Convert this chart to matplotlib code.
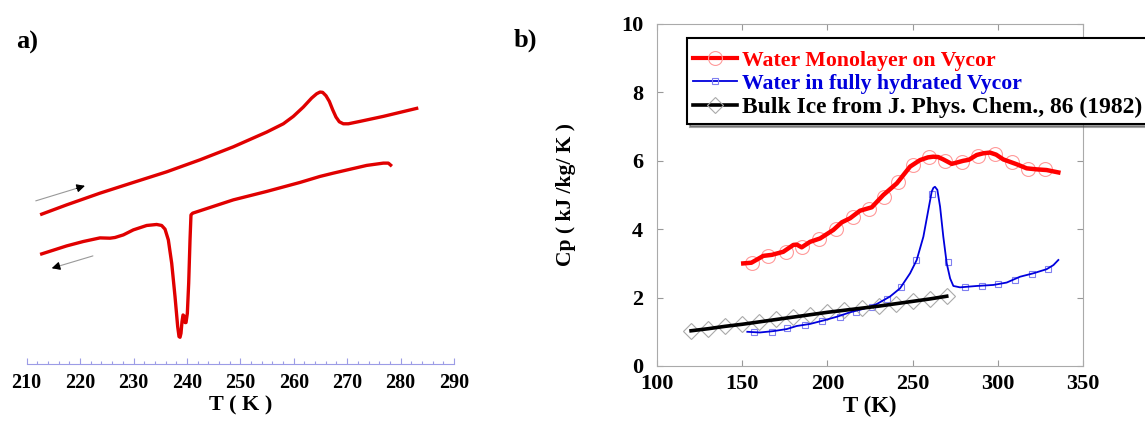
import matplotlib
matplotlib.use('Agg')
import matplotlib.pyplot as plt
from matplotlib.lines import Line2D
from matplotlib.ticker import MultipleLocator

plt.rcParams['font.family'] = ['Liberation Serif', 'DejaVu Serif']
plt.rcParams['font.weight'] = 'bold'
plt.rcParams['axes.labelweight'] = 'bold'

# ---- panel a: DSC scans (arbitrary heat flow units) ----
heat_T = [212.81, 217.49, 223.73, 229.97, 236.21, 242.45, 248.69, 254.93, 258.05,
          259.92, 261.79, 263.35, 264.29, 264.91, 265.41, 266.04, 266.66, 267.29,
          267.91, 268.53, 269.28, 270.22, 272.40, 276.77, 283.01]
heat_sig = [150.0, 159.3, 171.0, 181.7, 192.3, 204.3, 217.3, 232.0, 240.3,
            247.7, 257.0, 266.0, 270.3, 272.0, 271.7, 268.3, 262.7, 254.3,
            247.0, 242.3, 240.3, 240.3, 242.7, 247.7, 255.7]

cool_T = [212.81, 217.49, 220.61, 223.73, 225.60, 226.54, 228.10, 229.97, 232.47,
          234.34, 235.27, 235.90, 236.52, 237.15, 237.77, 238.27, 238.52, 238.71,
          238.89, 239.08, 239.27, 239.45, 239.64, 239.83, 240.08, 240.33, 240.58,
          240.76, 241.08, 248.69, 254.93, 261.17, 264.91, 267.41, 273.65, 276.77,
          277.71, 278.14]
cool_sig = [110.3, 118.3, 122.7, 126.3, 126.0, 126.7, 129.3, 134.3, 138.7,
            139.7, 138.7, 135.0, 124.3, 101.0, 67.7, 37.7, 27.7, 27.0,
            31.0, 42.7, 49.3, 48.3, 41.7, 41.7, 51.0, 81.0, 124.3,
            149.3, 151.0, 164.3, 172.7, 181.7, 187.7, 191.0, 198.7, 201.0,
            201.0, 199.0]

# ---- panel b: heat capacity ----
mono_T = [150.6, 155.4, 162.4, 167.4, 174.1, 180.0, 182.0, 184.9, 189.8, 195.7,
          203.5, 208.4, 213.3, 219.1, 226.0, 232.8, 240.7, 248.5, 254.3, 259.0,
          262.1, 265.0, 268.0, 272.9, 276.0, 279.7, 283.0, 287.6, 291.5, 295.4,
          299.0, 303.2, 311.0, 316.9, 322.7, 328.6, 335.5]
mono_cp = [3.00, 3.02, 3.22, 3.25, 3.34, 3.54, 3.55, 3.47, 3.63, 3.73,
           3.98, 4.20, 4.32, 4.54, 4.64, 5.00, 5.34, 5.83, 6.02, 6.10,
           6.12, 6.11, 6.04, 5.91, 5.95, 6.00, 6.03, 6.17, 6.22, 6.24,
           6.18, 6.04, 5.90, 5.78, 5.75, 5.73, 5.66]
mono_pts_T = [155.5, 165.3, 175.7, 185.3, 195.3, 205.1, 215.2, 224.6, 233.2, 241.6,
              250.4, 259.8, 269.0, 278.8, 288.6, 298.4, 308.2, 317.9, 327.7]
mono_pts_cp = [3.02, 3.22, 3.34, 3.49, 3.70, 4.02, 4.35, 4.60, 4.95, 5.39,
               5.88, 6.10, 6.00, 5.97, 6.15, 6.20, 5.96, 5.76, 5.76]

hyd_T = [153.0, 160.4, 168.3, 176.1, 182.0, 189.8, 197.6, 205.5, 213.3, 221.1,
         228.9, 236.7, 242.6, 248.5, 252.4, 256.3, 259.2, 261.2, 262.2, 263.1,
         264.5, 266.1, 268.0, 270.0, 272.0, 273.9, 277.8, 287.6, 297.4, 305.2,
         313.0, 320.8, 328.6, 332.6, 335.5]
hyd_cp = [1.00, 0.98, 1.02, 1.08, 1.17, 1.23, 1.33, 1.44, 1.57, 1.67,
          1.81, 2.03, 2.27, 2.71, 3.10, 3.78, 4.56, 5.10, 5.21, 5.24,
          5.15, 4.66, 3.78, 3.00, 2.56, 2.34, 2.30, 2.34, 2.37, 2.44,
          2.61, 2.71, 2.83, 2.95, 3.10]
hyd_pts_T = [157.1, 167.3, 176.5, 187.0, 197.0, 207.4, 216.8, 226.0, 234.8, 243.0,
             252.0, 261.2, 271.0, 280.7, 290.5, 300.3, 310.0, 319.9, 329.6]
hyd_pts_cp = [1.00, 1.00, 1.10, 1.20, 1.32, 1.44, 1.59, 1.73, 1.96, 2.32,
              3.10, 5.03, 3.05, 2.30, 2.34, 2.40, 2.51, 2.68, 2.84]

ice_T = [120, 130, 140, 150, 160, 170, 180, 190, 200, 210, 220, 230, 240, 250, 260, 270]
ice_cp = [1.03, 1.09, 1.16, 1.22, 1.29, 1.36, 1.43, 1.50, 1.57, 1.63,
          1.69, 1.75, 1.82, 1.89, 1.96, 2.04]

labels = ['Water Monolayer on Vycor', 'Water in fully hydrated Vycor',
          'Bulk Ice from J. Phys. Chem., 86 (1982)']

fig = plt.figure(figsize=(11.45, 4.24), dpi=100)

# ---------- panel a ----------
axa = fig.add_axes([0.0233, 0.1408, 0.3732, 0.8026])
axa.plot(heat_T, heat_sig, color='#e00000', lw=2.4, solid_joinstyle='round')
axa.plot(cool_T, cool_sig, color='#e00000', lw=2.4, solid_joinstyle='round')
# scan direction arrows: grey shaft, black head
arrow_grey = dict(arrowstyle='-|>', color='#999999', lw=0.8,
                  mutation_scale=12, shrinkA=0, shrinkB=0)
arrow_head = dict(arrowstyle='-|>', color='black', lw=0.8,
                  mutation_scale=12, shrinkA=0, shrinkB=0)
axa.annotate('', xy=(220.9, 178.3), xytext=(211.7, 163.3), arrowprops=arrow_grey)
axa.annotate('', xy=(220.9, 178.3), xytext=(219.3, 175.7), arrowprops=arrow_head)
axa.annotate('', xy=(214.7, 96.0), xytext=(222.4, 108.3), arrowprops=arrow_grey)
axa.annotate('', xy=(214.7, 96.0), xytext=(216.1, 98.2), arrowprops=arrow_head)
axa.set_xlim(210, 290)
axa.set_ylim(0, 340)
for s in ['left', 'right', 'top']:
    axa.spines[s].set_visible(False)
axa.spines['bottom'].set_color('#9c9ce6')
axa.set_yticks([])
axa.xaxis.set_major_locator(MultipleLocator(10))
axa.xaxis.set_minor_locator(MultipleLocator(2))
axa.tick_params(axis='x', which='major', direction='in', length=4.5, width=0.8,
                color='#9c9ce6', labelsize=14.5, pad=6)
axa.tick_params(axis='x', which='minor', direction='in', length=2.2, width=0.8,
                color='#9c9ce6')
axa.set_xlabel('T ( K )', fontsize=16, labelpad=2)
fig.text(0.014, 0.90, 'a)', fontsize=19, fontweight='bold', va='center')

# ---------- panel b ----------
axb = fig.add_axes([0.5738, 0.1368, 0.3721, 0.8066])
axb.plot(mono_pts_T, mono_pts_cp, ls='none', marker='o', ms=10, mfc='none',
         mec='#ff9a9a', mew=0.8, zorder=2)
axb.plot(mono_T, mono_cp, color='#ff0000', lw=3.2, zorder=3)
axb.plot(hyd_pts_T, hyd_pts_cp, ls='none', marker='s', ms=5, mfc='none',
         mec='#8080f0', mew=0.8, zorder=2)
axb.plot(hyd_T, hyd_cp, color='#0000dd', lw=1.3, zorder=3)
axb.plot(ice_T, ice_cp, ls='none', marker='D', ms=8.5, mfc='none',
         mec='#aaaaaa', mew=0.8, zorder=2)
axb.plot(ice_T, ice_cp, color='black', lw=2.6, zorder=3)

axb.set_xlim(100, 350)
axb.set_ylim(0, 10)
axb.set_xticks([100, 150, 200, 250, 300, 350])
axb.set_yticks([0, 2, 4, 6, 8, 10])
for s in axb.spines.values():
    s.set_color('#aaaaaa')
axb.tick_params(direction='in', top=True, right=True, length=4, width=0.8,
                color='#999999', labelsize=16)
axb.tick_params(axis='x', pad=6)
axb.tick_params(axis='y', pad=10)
axb.set_xlabel('T (K)', fontsize=16.5, labelpad=1)
axb.set_ylabel('Cp ( kJ /kg/ K )', fontsize=15.5, labelpad=32)

handles = [
    Line2D([], [], color='#ff0000', lw=3.0, marker='o', ms=10, mfc='none',
           mec='#ff9a9a', mew=0.8),
    Line2D([], [], color='#0000dd', lw=1.3, marker='s', ms=5, mfc='none',
           mec='#8080f0', mew=0.8),
    Line2D([], [], color='black', lw=2.6, marker='D', ms=8.5, mfc='none',
           mec='#aaaaaa', mew=0.8),
]
# a tiny blank title gives the box a bit more room above the first row
leg = axb.legend(handles, labels, loc='upper left',
                 bbox_to_anchor=(687 / 1145, 1 - 38 / 424),
                 bbox_transform=fig.transFigure, fontsize=15.7, frameon=True,
                 fancybox=False, shadow=True, edgecolor='black', framealpha=1,
                 borderaxespad=0, borderpad=0.28, labelspacing=0.12,
                 handlelength=2.0, handletextpad=0.25,
                 title=' ', title_fontsize=2.5,
                 labelcolor=['#ff0000', '#0000dd', 'black'])
leg.get_frame().set_linewidth(1.5)
leg.get_texts()[2].set_fontsize(17)
fig.text(0.449, 0.905, 'b)', fontsize=19, fontweight='bold', va='center')

fig.savefig('out.png', dpi=100)
